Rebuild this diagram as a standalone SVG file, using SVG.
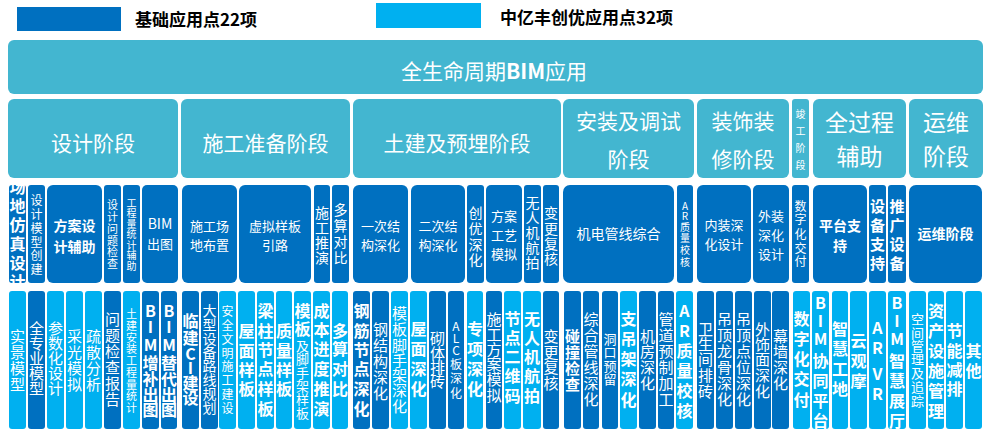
<svg xmlns="http://www.w3.org/2000/svg" width="991" height="441" viewBox="0 0 991 441">
<style>
text{font-family:"Noto Sans CJK SC","Noto Sans",sans-serif;text-anchor:middle;dominant-baseline:central;fill:#fff}
.k{fill:#000;text-anchor:start;font-weight:bold;font-size:17px}
.d{fill:#0070C0}.l{fill:#00B0F0}.t{fill:#43B6D0}
.b{font-weight:bold}
.f10{font-size:10px}.f11{font-size:11px}.f12{font-size:12px}.f13{font-size:13px}.f14{font-size:14px}.f15{font-size:15px}.f16{font-size:16px}.f21{font-size:21px}.f23{font-size:23px}
</style>
<defs><clipPath id="cm1"><rect x="9" y="185" width="17" height="98"/></clipPath></defs>
<rect width="991" height="441" fill="#fff"/>
<g id="legend">
<rect x="17" y="7" width="104" height="24" class="d"/>
<text x="135" y="18" class="k">基础应用点22项</text>
<rect x="376" y="3" width="105" height="25" class="l"/>
<text x="500" y="16" class="k">中亿丰创优应用点32项</text>
</g>
<g id="top"><rect x="8" y="40" width="975" height="54" rx="6" class="t"/>
<text x="494" y="70" class="f21">全生命周期<tspan class="b">BIM</tspan>应用</text></g>
<g id="stages">
<g id="s1"><rect x="8" y="99" width="170" height="79" rx="6" class="t"/><text x="93" y="142" class="f21">设计阶段</text></g>
<g id="s2"><rect x="181" y="99" width="169" height="79" rx="6" class="t"/><text x="265.5" y="142" class="f21">施工准备阶段</text></g>
<g id="s3"><rect x="353" y="99" width="208" height="79" rx="6" class="t"/><text x="457" y="142" class="f21">土建及预埋阶段</text></g>
<g id="s4"><rect x="563" y="99" width="131" height="79" rx="6" class="t"/><text class="f21"><tspan x="628.5" y="120">安装及调试</tspan><tspan x="628.5" y="158">阶段</tspan></text></g>
<g id="s5"><rect x="697" y="99" width="92" height="79" rx="6" class="t"/><text class="f21"><tspan x="743" y="120">装饰装</tspan><tspan x="743" y="158">修阶段</tspan></text></g>
<g id="s6"><rect x="792" y="99" width="17" height="79" rx="3" class="t"/><text x="800.5 800.5 800.5 800.5" y="113 130 147 164" class="f10">竣工阶段</text></g>
<g id="s7"><rect x="813" y="99" width="93" height="79" rx="6" class="t"/><text class="f23"><tspan x="859.5" y="121">全过程</tspan><tspan x="859.5" y="155">辅助</tspan></text></g>
<g id="s8"><rect x="909" y="99" width="74" height="79" rx="6" class="t"/><text class="f23"><tspan x="946" y="121">运维</tspan><tspan x="946" y="155">阶段</tspan></text></g>
</g>
<g id="middle">
<g id="m1"><rect x="9" y="185" width="17" height="98" rx="3" class="d"/><text clip-path="url(#cm1)" x="17.5 17.5 17.5 17.5 17.5 17.5" y="186 205 224 243 262 281" class="b f16">场地仿真设计</text></g>
<g id="m2"><rect x="28" y="185" width="17" height="98" rx="3" class="d"/><text x="36.5 36.5 36.5 36.5 36.5 36.5" y="199 213 227 241 254 268" class="f12">设计模型创建</text></g>
<g id="m3"><rect x="47" y="185" width="55" height="98" rx="6" class="d"/><text class="b f14"><tspan x="74.5" y="225">方案设</tspan><tspan x="74.5" y="246">计辅助</tspan></text></g>
<g id="m4"><rect x="104" y="185" width="17" height="98" rx="3" class="d"/><text x="112.5 112.5 112.5 112.5 112.5 112.5" y="204 216 228 240 251 263" class="f11">设计问题检查</text></g>
<g id="m5"><rect x="123" y="185" width="17" height="98" rx="3" class="d"/><text x="131.5 131.5 131.5 131.5 131.5 131.5 131.5" y="202 212.5 223 233.5 244 254.5 265" class="f10">工程量统计辅助</text></g>
<g id="m6"><rect x="142" y="185" width="36" height="98" rx="5" class="d"/><text class="f13"><tspan x="160" y="223" class="f14">BIM</tspan><tspan x="160" y="243">出图</tspan></text></g>
<g id="m7"><rect x="182" y="185" width="55" height="98" rx="6" class="d"/><text class="f13"><tspan x="209.5" y="225">施工场</tspan><tspan x="209.5" y="244">地布置</tspan></text></g>
<g id="m8"><rect x="239" y="185" width="72" height="98" rx="6" class="d"/><text class="f13"><tspan x="275" y="225">虚拟样板</tspan><tspan x="275" y="244">引路</tspan></text></g>
<g id="m9"><rect x="314" y="185" width="16" height="98" rx="3" class="d"/><text x="322 322 322 322" y="212 227 242 257" class="f14">施工推演</text></g>
<g id="m10"><rect x="332" y="185" width="17" height="98" rx="3" class="d"/><text x="340.5 340.5 340.5 340.5" y="209 225 241 257" class="f14">多算对比</text></g>
<g id="m11"><rect x="353" y="185" width="55" height="98" rx="6" class="d"/><text class="f13"><tspan x="380.5" y="225">一次结</tspan><tspan x="380.5" y="244">构深化</tspan></text></g>
<g id="m12"><rect x="411" y="185" width="54" height="98" rx="6" class="d"/><text class="f13"><tspan x="438" y="225">二次结</tspan><tspan x="438" y="244">构深化</tspan></text></g>
<g id="m13"><rect x="467" y="185" width="17" height="98" rx="3" class="d"/><text x="475.5 475.5 475.5 475.5" y="212 228 244 259" class="f14">创优深化</text></g>
<g id="m14"><rect x="486" y="185" width="36" height="98" rx="5" class="d"/><text class="f13"><tspan x="504" y="215">方案</tspan><tspan x="504" y="234">工艺</tspan><tspan x="504" y="253">模拟</tspan></text></g>
<g id="m15"><rect x="524" y="185" width="17" height="98" rx="3" class="d"/><text x="532.5 532.5 532.5 532.5 532.5" y="202 217 232 247 262" class="f14">无人机航拍</text></g>
<g id="m16"><rect x="543" y="185" width="16" height="98" rx="3" class="d"/><text x="551 551 551 551" y="212 228 243 258" class="f14">变更复核</text></g>
<g id="m17"><rect x="563" y="185" width="111" height="98" rx="7" class="d"/><text x="618.5" y="233" class="f14">机电管线综合</text></g>
<g id="m18"><rect x="677" y="185" width="16" height="98" rx="3" class="d"/><text x="685 685 685 685 685 685" y="205 215 226 237 249 261" class="f10">AR质量校核</text></g>
<g id="m19"><rect x="697" y="185" width="54" height="98" rx="6" class="d"/><text class="f13"><tspan x="724" y="224">内装深</tspan><tspan x="724" y="243">化设计</tspan></text></g>
<g id="m20"><rect x="753" y="185" width="36" height="98" rx="5" class="d"/><text class="f13"><tspan x="771" y="215">外装</tspan><tspan x="771" y="234">深化</tspan><tspan x="771" y="253">设计</tspan></text></g>
<g id="m21"><rect x="792" y="185" width="17" height="98" rx="3" class="d"/><text x="800.5 800.5 800.5 800.5 800.5" y="205 218 233 247 260" class="f12">数字化交付</text></g>
<g id="m22"><rect x="813" y="185" width="54" height="98" rx="6" class="d"/><text class="b f14"><tspan x="840" y="225">平台支</tspan><tspan x="840" y="245">持</tspan></text></g>
<g id="m23"><rect x="869" y="185" width="17" height="98" rx="3" class="d"/><text x="877.5 877.5 877.5 877.5" y="205 224 243 262" class="b f15">设备支持</text></g>
<g id="m24"><rect x="888" y="185" width="18" height="98" rx="3" class="d"/><text x="897 897 897 897" y="205 224 243 262" class="b f15">推广设备</text></g>
<g id="m25"><rect x="909" y="185" width="73" height="98" rx="7" class="d"/><text x="945.5" y="233" class="b f14">运维阶段</text></g>
</g>
<g id="bottom">
<g id="b1"><rect x="9" y="291" width="17" height="138" rx="3" class="l"/><text x="17.5 17.5 17.5 17.5" y="335 351 367 383" class="f15">实景模型</text></g>
<g id="b2"><rect x="28" y="291" width="17" height="138" rx="3" class="d"/><text x="36.5 36.5 36.5 36.5 36.5" y="327 342 357 372 387" class="f15">全专业模型</text></g>
<g id="b3"><rect x="47" y="291" width="17" height="138" rx="3" class="l"/><text x="55.5 55.5 55.5 55.5 55.5" y="327 342 357 372 387" class="f15">参数化设计</text></g>
<g id="b4"><rect x="66" y="291" width="17" height="138" rx="3" class="l"/><text x="74.5 74.5 74.5 74.5" y="335 351 367 383" class="f15">采光模拟</text></g>
<g id="b5"><rect x="85" y="291" width="17" height="138" rx="3" class="l"/><text x="93.5 93.5 93.5 93.5" y="335 351 367 383" class="f15">疏散分析</text></g>
<g id="b6"><rect x="104" y="291" width="17" height="138" rx="3" class="d"/><text x="112.5 112.5 112.5 112.5 112.5 112.5" y="318 334 350 366 382 398" class="f15">问题检查报告</text></g>
<g id="b7"><rect x="123" y="291" width="17" height="138" rx="3" class="l"/><text x="131.5 131.5 131.5 131.5 131.5 131.5 131.5 131.5 131.5" y="313 324.75 336.5 348.25 360 371.75 383.5 395.25 407" class="f11">土建安装工程量统计</text></g>
<g id="b8"><rect x="142" y="291" width="17" height="138" rx="3" class="d"/><text x="150.5 150.5 150.5 150.5 150.5 150.5 150.5" y="310 326 344 362 378 394 409" class="b f16">BIM增补出图</text></g>
<g id="b9"><rect x="161" y="291" width="16" height="138" rx="3" class="d"/><text x="169 169 169 169 169 169 169" y="310 326 344 362 378 394 409" class="b f16">BIM替代出图</text></g>
<g id="b10"><rect x="182" y="291" width="17" height="138" rx="3" class="d"/><text x="190.5 190.5 190.5 190.5 190.5 190.5" y="320 337 353 367 382 397" class="b f16">临建CI建设</text></g>
<g id="b11"><rect x="201" y="291" width="17" height="138" rx="3" class="d"/><text x="209.5 209.5 209.5 209.5 209.5 209.5 209.5 209.5" y="310 324 338 352 365 379 393 407" class="f14">大型设备路线规划</text></g>
<g id="b12"><rect x="219" y="291" width="17" height="138" rx="3" class="l"/><text x="227.5 227.5 227.5 227.5 227.5 227.5 227.5 227.5" y="310 324 338 352 365 379 393 407" class="f12">安全文明施工建设</text></g>
<g id="b13"><rect x="238" y="291" width="17" height="138" rx="3" class="l"/><text x="246.5 246.5 246.5 246.5" y="330 350 369 388" class="b f16">屋面样板</text></g>
<g id="b14"><rect x="257" y="291" width="17" height="138" rx="3" class="l"/><text x="265.5 265.5 265.5 265.5 265.5 265.5" y="310 330 349 368 388 408" class="b f16">梁柱节点样板</text></g>
<g id="b15"><rect x="276" y="291" width="16" height="138" rx="3" class="l"/><text x="284 284 284 284" y="330 350 369 388" class="b f16">质量样板</text></g>
<g id="b16"><rect x="294" y="291" width="17" height="138" rx="3" class="l"/><text><tspan x="302.5 302.5" y="310 328" class="b f16">模板</tspan><tspan x="302.5 302.5 302.5 302.5 302.5 302.5" y="345 358 372 385 398 412" class="f13">及脚手架样板</tspan></text></g>
<g id="b17"><rect x="313" y="291" width="17" height="138" rx="3" class="l"/><text x="321.5 321.5 321.5 321.5 321.5 321.5" y="310 329 348 368 388 408" class="b f16">成本进度推演</text></g>
<g id="b18"><rect x="332" y="291" width="16" height="138" rx="3" class="l"/><text x="340 340 340 340" y="330 348 368 388" class="b f16">多算对比</text></g>
<g id="b19"><rect x="353" y="291" width="17" height="138" rx="3" class="d"/><text x="361.5 361.5 361.5 361.5 361.5 361.5" y="310 330 349 368 388 408" class="b f16">钢筋节点深化</text></g>
<g id="b20"><rect x="372" y="291" width="17" height="138" rx="3" class="d"/><text x="380.5 380.5 380.5 380.5 380.5" y="328 344 360 376 392" class="f15">钢结构深化</text></g>
<g id="b21"><rect x="391" y="291" width="17" height="138" rx="3" class="l"/><text x="399.5 399.5 399.5 399.5 399.5 399.5 399.5" y="312 328 344 359 374 389 405" class="f15">模板脚手架深化</text></g>
<g id="b22"><rect x="410" y="291" width="17" height="138" rx="3" class="l"/><text x="418.5 418.5 418.5 418.5" y="328 348 368 388" class="b f16">屋面深化</text></g>
<g id="b23"><rect x="429" y="291" width="17" height="138" rx="3" class="d"/><text x="437.5 437.5 437.5 437.5" y="337 352 366 380" class="f15">砌体排砖</text></g>
<g id="b24"><rect x="448" y="291" width="16" height="138" rx="3" class="d"/><text x="456 456 456 456 456 456" y="325 337 349 363 377 392" class="f12">ALC板深化</text></g>
<g id="b25"><rect x="467" y="291" width="16" height="138" rx="3" class="l"/><text x="475 475 475 475" y="328 348 368 388" class="b f16">专项深化</text></g>
<g id="b26"><rect x="486" y="291" width="16" height="138" rx="3" class="d"/><text x="494 494 494 494 494 494" y="318 333 348 363 378 394" class="f15">施工方案模拟</text></g>
<g id="b27"><rect x="504" y="291" width="17" height="138" rx="3" class="l"/><text x="512.5 512.5 512.5 512.5 512.5" y="318 337 356 375 395" class="b f16">节点二维码</text></g>
<g id="b28"><rect x="523" y="291" width="18" height="138" rx="3" class="l"/><text x="532 532 532 532 532" y="318 337 356 375 395" class="b f16">无人机航拍</text></g>
<g id="b29"><rect x="543" y="291" width="16" height="138" rx="3" class="d"/><text x="551 551 551 551" y="335 351 366 382" class="f15">变更复核</text></g>
<g id="b30"><rect x="564" y="291" width="17" height="138" rx="3" class="d"/><text x="572.5 572.5 572.5 572.5" y="335 351 367 383" class="b f15">碰撞检查</text></g>
<g id="b31"><rect x="583" y="291" width="16" height="138" rx="3" class="d"/><text x="591 591 591 591 591 591" y="318 334 350 366 382 398" class="f15">综合管线深化</text></g>
<g id="b32"><rect x="602" y="291" width="16" height="138" rx="3" class="d"/><text x="610 610 610 610" y="338 351 365 378" class="f13">洞口预留</text></g>
<g id="b33"><rect x="620" y="291" width="17" height="138" rx="3" class="l"/><text x="628.5 628.5 628.5 628.5 628.5" y="318 338 358 378 399" class="b f16">支吊架深化</text></g>
<g id="b34"><rect x="639" y="291" width="17" height="138" rx="3" class="d"/><text x="647.5 647.5 647.5 647.5" y="335 350 366 382" class="f15">机房深化</text></g>
<g id="b35"><rect x="658" y="291" width="16" height="138" rx="3" class="d"/><text x="666 666 666 666 666 666" y="318 334 350 366 382 398" class="f15">管道预制加工</text></g>
<g id="b36"><rect x="676" y="291" width="17" height="138" rx="3" class="l"/><text x="684.5 684.5 684.5 684.5 684.5 684.5" y="310 330 350 370 390 410" class="b f16">AR质量校核</text></g>
<g id="b37"><rect x="697" y="291" width="17" height="138" rx="3" class="d"/><text x="705.5 705.5 705.5 705.5 705.5" y="328 343 358 374 390" class="f15">卫生间排砖</text></g>
<g id="b38"><rect x="716" y="291" width="17" height="138" rx="3" class="d"/><text x="724.5 724.5 724.5 724.5 724.5 724.5" y="318 334 350 366 382 398" class="f15">吊顶龙骨深化</text></g>
<g id="b39"><rect x="735" y="291" width="17" height="138" rx="3" class="d"/><text x="743.5 743.5 743.5 743.5 743.5 743.5" y="318 334 350 366 382 398" class="f15">吊顶点位深化</text></g>
<g id="b40"><rect x="754" y="291" width="17" height="138" rx="3" class="d"/><text x="762.5 762.5 762.5 762.5 762.5" y="328 343 358 374 390" class="f15">外饰面深化</text></g>
<g id="b41"><rect x="772" y="291" width="17" height="138" rx="3" class="d"/><text x="780.5 780.5 780.5 780.5" y="335 350 366 382" class="f15">幕墙深化</text></g>
<g id="b42"><rect x="793" y="291" width="17" height="138" rx="3" class="l"/><text x="801.5 801.5 801.5 801.5 801.5" y="318 338 358 378 399" class="b f16">数字化交付</text></g>
<g id="b43"><rect x="812" y="291" width="17" height="138" rx="3" class="l"/><text x="820.5 820.5 820.5 820.5 820.5 820.5 820.5" y="302 320 338 360 380 400 420" class="b f16">BIM协同平台</text></g>
<g id="b44"><rect x="832" y="291" width="16" height="138" rx="3" class="l"/><text x="840 840 840 840" y="328 348 368 388" class="b f16">智慧工地</text></g>
<g id="b45"><rect x="850" y="291" width="17" height="138" rx="3" class="l"/><text x="858.5 858.5 858.5" y="340 360 380" class="b f16">云观摩</text></g>
<g id="b46"><rect x="869" y="291" width="17" height="138" rx="3" class="l"/><text x="877.5 877.5 877.5 877.5" y="327 347 373 393" class="b f16">ARVR</text></g>
<g id="b47"><rect x="888" y="291" width="18" height="138" rx="3" class="l"/><text x="897 897 897 897 897 897 897" y="302 320 338 360 380 400 420" class="b f16">BIM智慧展厅</text></g>
<g id="b48"><rect x="909" y="291" width="17" height="138" rx="3" class="l"/><text x="917.5 917.5 917.5 917.5 917.5 917.5 917.5" y="318 332 345 358 372 386 400" class="f13">空间管理及追踪</text></g>
<g id="b49"><rect x="928" y="291" width="16" height="138" rx="3" class="l"/><text x="936 936 936 936 936 936" y="310 330 350 370 390 410" class="b f16">资产设施管理</text></g>
<g id="b50"><rect x="946" y="291" width="17" height="138" rx="3" class="l"/><text x="954.5 954.5 954.5 954.5" y="330 350 369 388" class="b f16">节能减排</text></g>
<g id="b51"><rect x="965" y="291" width="17" height="138" rx="3" class="l"/><text x="973.5 973.5" y="350 370" class="b f16">其他</text></g>
</g>
<g id="connectors"/>
</svg>
